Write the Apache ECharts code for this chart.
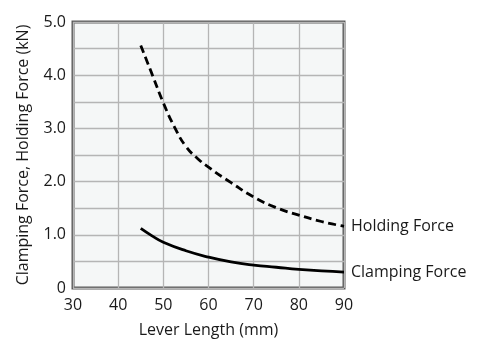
<!DOCTYPE html>
<html>
<head>
<meta charset="utf-8">
<script src="https://cdn.jsdelivr.net/npm/echarts@6/dist/echarts.min.js"></script>
<style>
html,body{margin:0;padding:0;background:#fff;}
#chart{width:478px;height:343px;}
</style>
</head>
<body>
<div id="chart"></div>
<script>
const leverLength = [45, 47.5, 50, 52.5, 55, 57.5, 60, 65, 70, 75, 80, 85, 90];
const holdingForce = [4.56, 4.02, 3.48, 3.02, 2.66, 2.44, 2.27, 1.98, 1.71, 1.51, 1.37, 1.25, 1.16];
const clampLength = [45, 47.5, 50, 55, 60, 65, 70, 75, 80, 85, 90];
const clampingForce = [1.12, 0.98, 0.86, 0.70, 0.58, 0.49, 0.43, 0.39, 0.35, 0.32, 0.30];
const xTicks = [30, 40, 50, 60, 70, 80, 90];
const yTickLabels = {0: '0', 1: '1.0', 2: '2.0', 3: '3.0', 4: '4.0', 5: '5.0'};

const FONT = 'Open Sans';
const TXT = '#1a1a1a';
const chart = echarts.init(document.getElementById('chart'), null, {renderer: 'canvas'});
chart.setOption({
  animation: false,
  textStyle: {fontFamily: FONT},
  grid: {
    left: 73, right: 134, top: 22, bottom: 49,
    show: true, backgroundColor: '#f5f7f7', borderColor: '#5a5a5a', borderWidth: 3,
    containLabel: false
  },
  xAxis: {
    type: 'value', min: xTicks[0], max: xTicks[xTicks.length - 1], interval: 10,
    name: 'Lever Length (mm)', nameLocation: 'middle', nameGap: 34,
    nameTextStyle: {fontFamily: FONT, fontSize: 16, color: TXT},
    axisLine: {show: false}, axisTick: {show: false},
    axisLabel: {fontFamily: FONT, fontSize: 16, color: TXT, margin: 9},
    splitLine: {show: true, lineStyle: {color: '#b5b5b5', width: 1.3}}
  },
  yAxis: {
    type: 'value', min: 0, max: 5, interval: 0.5,
    name: 'Clamping Force, Holding Force (kN)', nameLocation: 'middle', nameGap: 42,
    nameTextStyle: {fontFamily: FONT, fontSize: 16, color: TXT},
    axisLine: {show: false}, axisTick: {show: false},
    axisLabel: {
      fontFamily: FONT, fontSize: 16, color: TXT, margin: 7,
      formatter: v => (yTickLabels[v] !== undefined ? yTickLabels[v] : '')
    },
    splitLine: {show: true, lineStyle: {color: '#b5b5b5', width: 1.3}}
  },
  series: [
    {
      name: 'Holding Force', type: 'line', smooth: 0.5, symbol: 'none',
      data: leverLength.map((x, i) => [x, holdingForce[i]]),
      lineStyle: {color: '#000', width: 2.8, type: [8, 4.5]},
      endLabel: {show: true, formatter: '{a}', fontFamily: FONT, fontSize: 16, color: TXT, distance: 7}
    },
    {
      name: 'Clamping Force', type: 'line', smooth: 0.5, symbol: 'none',
      data: clampLength.map((x, i) => [x, clampingForce[i]]),
      lineStyle: {color: '#000', width: 2.8},
      endLabel: {show: true, formatter: '{a}', fontFamily: FONT, fontSize: 16, color: TXT, distance: 7}
    }
  ]
});
</script>
</body>
</html>
